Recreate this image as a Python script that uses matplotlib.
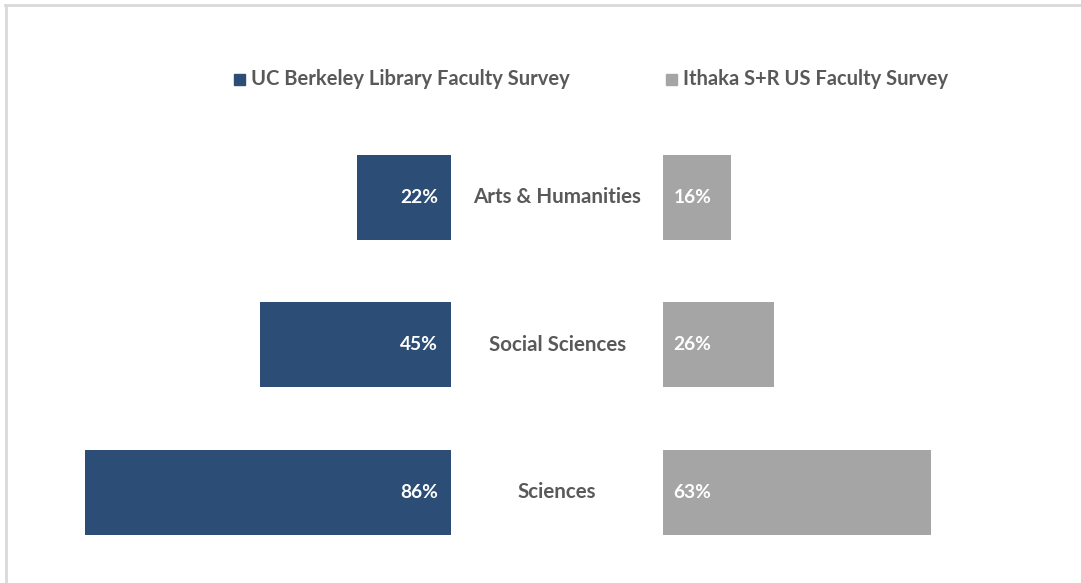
import matplotlib.pyplot as plt
from matplotlib.patches import Rectangle
from matplotlib.lines import Line2D

categories = ["Arts & Humanities", "Social Sciences", "Sciences"]
berkeley = [22, 45, 86]
ithaka = [16, 26, 63]
series_names = ["UC Berkeley Library Faculty Survey", "Ithaka S+R US Faculty Survey"]

BLUE = "#2C4D75"
GRAY = "#A5A5A5"
TEXT = "#595959"
GAP = 25  # half-width of the centre label column, in % units

plt.rcParams['font.family'] = ['Lato', 'DejaVu Sans']
plt.rcParams['font.weight'] = 'bold'

W, H = 1081, 583
fig = plt.figure(figsize=(W / 100, H / 100), dpi=100)
ax = fig.add_axes([0, 0, 1, 1])
ax.set_xlim(-131.1, 123.3)
ax.set_ylim(2.614, -1.339)
ax.axis('off')

y = list(range(len(categories)))
ax.barh(y, [-v for v in berkeley], left=-GAP, height=0.576, color=BLUE)
ax.barh(y, ithaka, left=GAP, height=0.576, color=GRAY)

for i, (cat, b, t) in enumerate(zip(categories, berkeley, ithaka)):
    ax.text(0, i, cat, ha='center', va='center', fontsize=14.8, color=TEXT)
    ax.text(-GAP - 3, i, f"{b}%", ha='right', va='center', fontsize=13.8, color='white')
    ax.text(GAP + 2.4, i, f"{t}%", ha='left', va='center', fontsize=13.8, color='white')

# legend along the top, placed in pixel units
legend_x = [234, 666]
for x0, name, col in zip(legend_x, series_names, [BLUE, GRAY]):
    fig.add_artist(Rectangle((x0 / W, (H - 85) / H), 11 / W, 11 / H,
                             transform=fig.transFigure, color=col))
    fig.text((x0 + 17) / W, (H - 79) / H, name, ha='left', va='center',
             fontsize=14.5, color=TEXT)

# light frame on the top and left edges
fig.add_artist(Line2D([5 / W, 1], [1 - 5 / H] * 2, color="#D9D9D9", lw=2))
fig.add_artist(Line2D([6 / W] * 2, [0, 1 - 5 / H], color="#D9D9D9", lw=2))

fig.savefig("out.png", dpi=100)
